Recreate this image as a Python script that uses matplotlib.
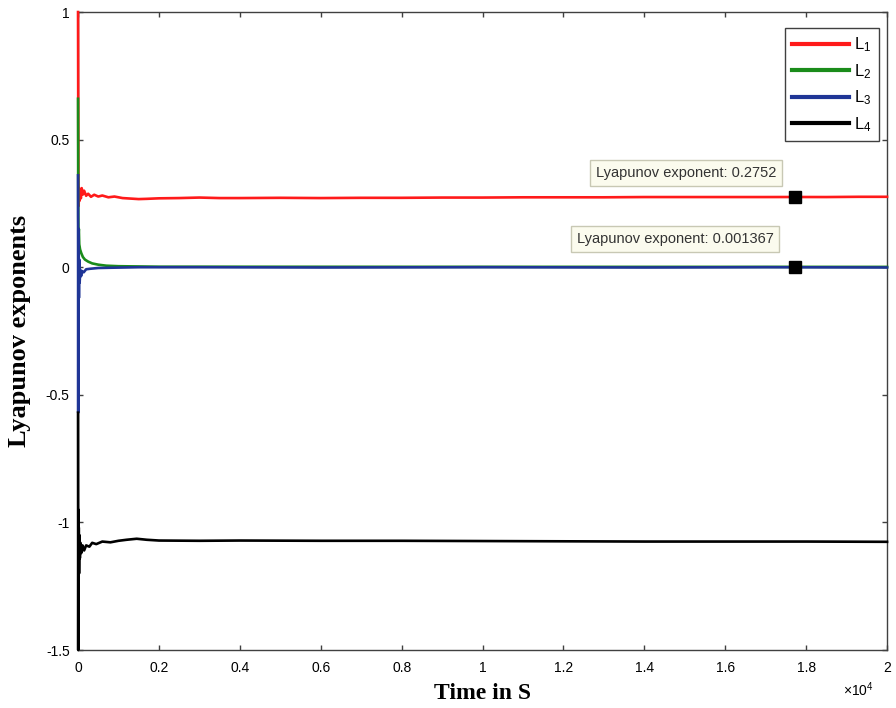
import matplotlib
matplotlib.use("Agg")
import matplotlib.pyplot as plt
from matplotlib.ticker import FuncFormatter

plt.rcParams['font.family'] = ['Liberation Sans', 'DejaVu Sans']
plt.rcParams['mathtext.default'] = 'regular'
plt.rcParams['axes.unicode_minus'] = False

# values
t_L1 = [0, 8, 15, 25, 35, 50, 70, 90, 120, 150, 200, 250, 320, 400, 500, 600, 750, 900,
        1100, 1300, 1500, 1700, 2000, 2500, 3000, 3500, 4000, 5000, 6000, 7000, 8000, 9000,
        10000, 11000, 12000, 13000, 14000, 15000, 16000, 17000, 17728, 18500, 19300, 20000]
L1 = [1.0, 0.35, 0.24, 0.31, 0.26, 0.30, 0.27, 0.31, 0.285, 0.30, 0.28, 0.288, 0.276, 0.284,
      0.277, 0.281, 0.274, 0.277, 0.271, 0.269, 0.267, 0.268, 0.270, 0.271, 0.273, 0.271,
      0.271, 0.272, 0.271, 0.272, 0.272, 0.273, 0.273, 0.274, 0.274, 0.274, 0.275, 0.275,
      0.275, 0.275, 0.2752, 0.275, 0.276, 0.276]

t_L2 = [0, 5, 10, 20, 30, 50, 80, 120, 170, 250, 350, 500, 700, 1000, 1500, 2000, 3000,
        5000, 8000, 11000, 14000, 17728, 20000]
L2 = [0.66, 0.20, 0.12, 0.15, 0.09, 0.07, 0.055, 0.04, 0.03, 0.022, 0.015, 0.010, 0.006,
      0.004, 0.003, 0.002, 0.002, 0.0018, 0.0016, 0.0015, 0.0014, 0.001367, 0.0013]

t_L3 = [0, 4, 8, 12, 16, 22, 30, 40, 55, 75, 100, 140, 200, 300, 500, 800, 1500, 3000,
        6000, 10000, 14000, 17000, 20000]
L3 = [0.36, -0.57, 0.15, -0.30, 0.08, -0.12, 0.03, -0.06, -0.01, -0.035, -0.015, -0.02,
      -0.008, -0.006, -0.003, -0.002, 0.0, 0.0, -0.001, 0.0, -0.001, 0.0, -0.001]

t_L4 = [0, 4, 8, 12, 18, 25, 35, 45, 60, 80, 110, 150, 200, 280, 350, 450, 600, 800, 1000,
        1200, 1450, 1700, 2000, 3000, 4000, 6000, 8000, 10000, 12000, 14000, 16000, 18000, 20000]
L4 = [-0.57, -1.5, -0.95, -1.35, -1.02, -1.20, -1.05, -1.14, -1.08, -1.12, -1.09, -1.11,
      -1.09, -1.095, -1.08, -1.085, -1.075, -1.078, -1.072, -1.068, -1.064, -1.068, -1.071,
      -1.072, -1.071, -1.072, -1.072, -1.073, -1.074, -1.075, -1.075, -1.075, -1.076]

labels = ['L$_1$', 'L$_2$', 'L$_3$', 'L$_4$']
colors = ['#ff1a1a', '#1a8c1a', '#1f3596', '#000000']

tip_t = [17728, 17728]
tip_v = [0.2752, 0.001367]
tip_text = ['Lyapunov exponent: 0.2752', 'Lyapunov exponent: 0.001367']
tip_offset = [(-13.5, 12), (-15.5, 15)]

fig = plt.figure(figsize=(8.96, 7.08), dpi=100)
ax = fig.add_axes([0.0871, 0.0819, 0.9029, 0.9011])

series = [(t_L1, L1), (t_L2, L2), (t_L3, L3), (t_L4, L4)]
for i, ((t, v), lab, c) in enumerate(zip(series, labels, colors)):
    ax.plot(t, v, color=c, lw=1.9, label=lab, zorder=3 + i * 0.1, clip_on=False)

for x, y, txt, off in zip(tip_t, tip_v, tip_text, tip_offset):
    ax.plot(x, y, 's', color='black', markersize=9, zorder=5)
    ax.annotate(txt, xy=(x, y), xytext=off, textcoords='offset points',
                ha='right', va='bottom', fontsize=10.5, color='#333333', zorder=6,
                bbox=dict(boxstyle='square,pad=0.4', fc='#fbfbee', ec='#c8c8b4', lw=1))

ax.set_xlim(0, 20000)
ax.set_ylim(-1.5, 1)
ax.set_xticks([0, 2000, 4000, 6000, 8000, 10000, 12000, 14000, 16000, 18000, 20000])
ax.set_yticks([-1.5, -1, -0.5, 0, 0.5, 1])
ax.xaxis.set_major_formatter(FuncFormatter(lambda v, p: '%g' % (v / 1e4)))
ax.yaxis.set_major_formatter(FuncFormatter(lambda v, p: '%g' % v))
ax.tick_params(direction='in', top=True, right=True, length=3.5, width=1,
               labelsize=10, color='#404040')
ax.tick_params(axis='x', pad=8)
ax.tick_params(axis='y', pad=6)
for s in ax.spines.values():
    s.set_color('#404040')
    s.set_linewidth(1.0)

ax.text(0.983, -0.048, r'$\times10^{4}$', transform=ax.transAxes, ha='right',
        va='top', fontsize=10)

ax.set_xlabel('Time in S', family='Liberation Serif', fontweight='bold', fontsize=17,
              labelpad=6)
ax.set_ylabel('Lyapunov exponents', family='Liberation Serif', fontweight='bold',
              fontsize=19, labelpad=11)

leg = ax.legend(loc='upper right', bbox_to_anchor=(0.990, 0.975), borderaxespad=0,
                fontsize=12, handlelength=3.4, handletextpad=0.3, labelspacing=0.47,
                borderpad=0.45, fancybox=False, framealpha=1)
leg.get_frame().set_edgecolor('#404040')
leg.set_zorder(7)
for h in leg.get_lines():
    h.set_linewidth(3)

fig.savefig('out.png', dpi=100, facecolor='white')
